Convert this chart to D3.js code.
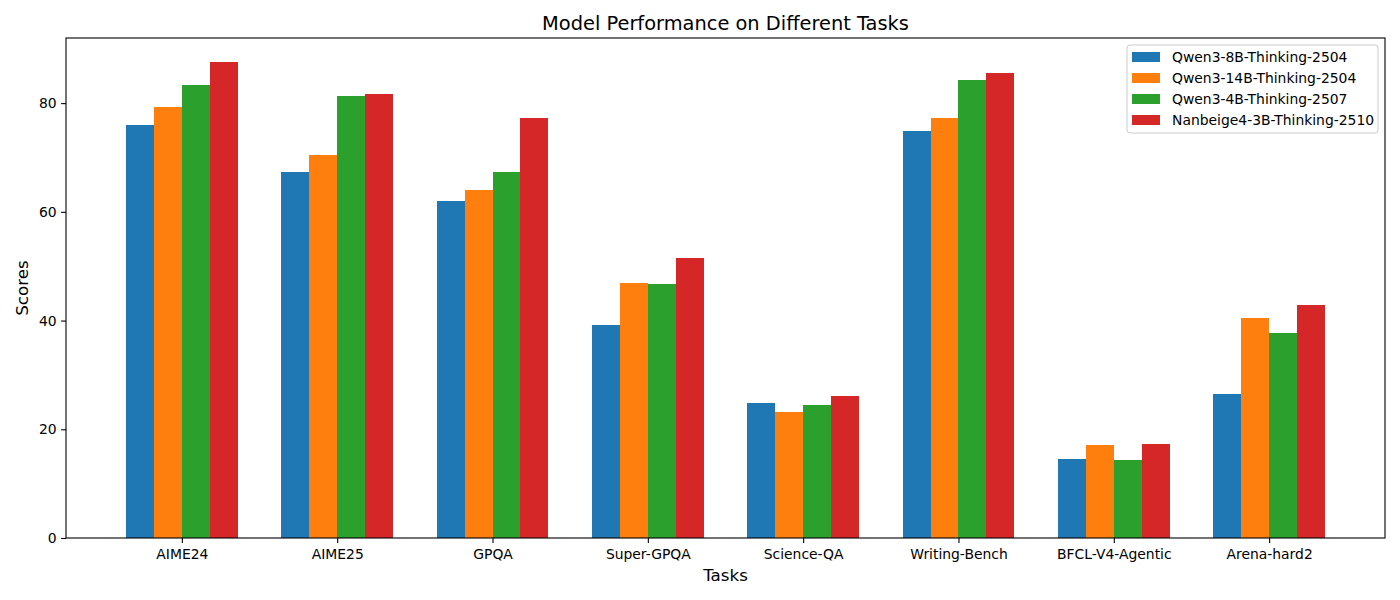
<!DOCTYPE html>
<html>
<head>
<meta charset="utf-8">
<script src="https://cdn.jsdelivr.net/npm/d3@7"></script>
<style>
  body { margin: 0; background: #fff; }
  svg text { font-family: "DejaVu Sans", sans-serif; fill: #000; }
</style>
</head>
<body>
<div id="chart"></div>
<script>
const tasks = ["AIME24", "AIME25", "GPQA", "Super-GPQA", "Science-QA", "Writing-Bench", "BFCL-V4-Agentic", "Arena-hard2"]
const models = ["Qwen3-8B-Thinking-2504", "Qwen3-14B-Thinking-2504", "Qwen3-4B-Thinking-2507", "Nanbeige4-3B-Thinking-2510"]
const qwen8b = [76.0, 67.3, 62.0, 39.2, 24.8, 74.9, 14.5, 26.5]
const qwen14b = [79.3, 70.5, 64.0, 46.9, 23.2, 77.3, 17.1, 40.5]
const qwen4b = [83.3, 81.3, 67.3, 46.7, 24.5, 84.3, 14.4, 37.7]
const nanbeige = [87.6, 81.7, 77.3, 51.5, 26.1, 85.6, 17.3, 42.9]
const yTicks = [0, 20, 40, 60, 80]

const colors = ["#1f77b4", "#ff7f0e", "#2ca02c", "#d62728"]
const seriesList = [qwen8b, qwen14b, qwen4b, nanbeige]

const W = 1400, H = 600
const margin = {top: 38, right: 15, bottom: 62, left: 66}
const width = W - margin.left - margin.right
const height = H - margin.top - margin.bottom
const barW = 0.18

const svg = d3.select("#chart").append("svg")
  .attr("width", W).attr("height", H)

const g = svg.append("g")
  .attr("transform", "translate(" + margin.left + "," + margin.top + ")")

// matplotlib-like auto limits: 5% margins
const lo = -1.5 * barW - barW / 2, hi = tasks.length - 1 + 1.5 * barW + barW / 2
const pad = (hi - lo) * 0.05
const x = d3.scaleLinear().domain([lo - pad, hi + pad]).range([0, width])

const ymax = d3.max(seriesList, s => d3.max(s))
const y = d3.scaleLinear().domain([0, ymax * 1.05]).range([height, 0])

// bars
seriesList.forEach((vals, j) => {
  g.append("g").selectAll("rect")
    .data(vals)
    .enter().append("rect")
      .attr("x", (d, i) => x(i + (j - 1.5) * barW - barW / 2))
      .attr("width", x(barW) - x(0))
      .attr("y", d => y(d))
      .attr("height", d => y(0) - y(d))
      .attr("fill", colors[j])
      .attr("shape-rendering", "crispEdges")
})

// axes
const xAxis = g.append("g")
  .attr("transform", "translate(0," + height + ")")
  .call(d3.axisBottom(x).tickValues(d3.range(tasks.length)).tickFormat(i => tasks[i]).tickSize(4.9).tickPadding(6))
const yAxis = g.append("g")
  .call(d3.axisLeft(y).tickValues(yTicks).tickSize(4.9).tickPadding(4.5))

;[xAxis, yAxis].forEach(a => {
  a.select(".domain").remove()
  a.selectAll("line").attr("stroke", "#000").attr("stroke-width", 1.1)
  a.selectAll("text").style("font-size", "13.9px").style("font-family", "DejaVu Sans")
})

// frame
g.append("rect")
  .attr("width", width).attr("height", height)
  .attr("fill", "none").attr("stroke", "#000").attr("stroke-width", 1.1)

// titles
svg.append("text")
  .attr("x", margin.left + width / 2).attr("y", 29.5)
  .attr("text-anchor", "middle").style("font-size", "19.4px")
  .text("Model Performance on Different Tasks")
svg.append("text")
  .attr("x", margin.left + width / 2).attr("y", 581)
  .attr("text-anchor", "middle").style("font-size", "16.7px")
  .text("Tasks")
svg.append("text")
  .attr("transform", "translate(28," + (margin.top + height / 2) + ") rotate(-90)")
  .attr("text-anchor", "middle").style("font-size", "16.7px")
  .text("Scores")

// legend
const lg = svg.append("g").attr("transform", "translate(1127,45)")
lg.append("rect")
  .attr("width", 251).attr("height", 88).attr("rx", 3)
  .attr("fill", "#fff").attr("fill-opacity", 0.8)
  .attr("stroke", "#cccccc").attr("stroke-width", 1)
models.forEach((m, j) => {
  const row = lg.append("g").attr("transform", "translate(0," + (12 + j * 21) + ")")
  row.append("rect").attr("x", 5).attr("y", -5).attr("width", 28).attr("height", 10).attr("fill", colors[j])
  row.append("text").attr("x", 45).attr("y", 5).style("font-size", "13.9px").text(m)
})
</script>
</body>
</html>
